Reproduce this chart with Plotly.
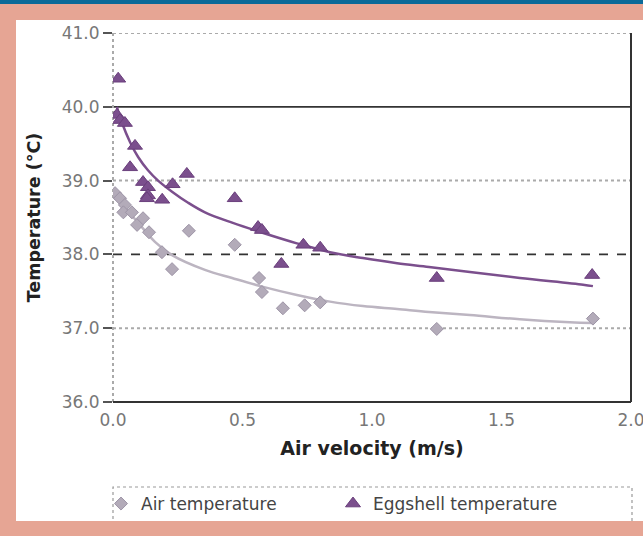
import plotly.graph_objects as go

# ---- data ----
egg_x = [0.02, 0.015, 0.027, 0.046, 0.085, 0.066, 0.116, 0.135, 0.135, 0.131, 0.19, 0.23, 0.285,
         0.47, 0.56, 0.575, 0.65, 0.735, 0.80, 1.25, 1.85]
egg_y = [40.38, 39.89, 39.82, 39.78, 39.47, 39.18, 38.98, 38.91, 38.80, 38.76, 38.74, 38.95, 39.09,
         38.76, 38.37, 38.33, 37.87, 38.13, 38.09, 37.68, 37.72]
air_x = [0.008, 0.027, 0.046, 0.04, 0.073, 0.093, 0.116, 0.139, 0.189, 0.228, 0.293,
         0.47, 0.564, 0.575, 0.656, 0.74, 0.80, 1.25, 1.853]
air_y = [38.83, 38.76, 38.67, 38.57, 38.57, 38.40, 38.49, 38.30, 38.03, 37.80, 38.32,
         38.13, 37.68, 37.49, 37.27, 37.31, 37.35, 36.99, 37.13]

# trend lines as drawn in the reference
egg_trend_x = [0.015, 0.035, 0.066, 0.097, 0.135, 0.174, 0.228, 0.29, 0.355, 0.46,
               0.58, 0.71, 0.838, 0.965, 1.097, 1.22, 1.378, 1.571, 1.815, 1.853]
egg_trend_y = [40.00, 39.78, 39.52, 39.32, 39.14, 39.00, 38.85, 38.70, 38.57, 38.43,
               38.29, 38.15, 38.03, 37.95, 37.88, 37.83, 37.76, 37.68, 37.59, 37.57]
air_trend_x = [0.015, 0.046, 0.097, 0.162, 0.228, 0.355, 0.46, 0.58, 0.71, 0.838,
               0.965, 1.097, 1.22, 1.378, 1.571, 1.764, 1.853]
air_trend_y = [38.87, 38.64, 38.43, 38.17, 37.99, 37.79, 37.68, 37.56, 37.45, 37.36,
               37.30, 37.26, 37.22, 37.18, 37.12, 37.08, 37.07]

y_ticks = [36, 37, 38, 39, 40, 41]
x_ticks = [0.0, 0.5, 1.0, 1.5, 2.0]

EGG_C = "#7b4f8d"
AIR_C = "#b3abb9"
SALMON = "#e6a594"
BLUE = "#0b6a99"

W, H = 643, 536
L, R, T, B = 113, 631, 33, 402


def px(x):
    return (x - L) / (R - L)


def py(y):
    return (B - y) / (B - T)


fig = go.Figure()

fig.add_trace(go.Scatter(x=air_trend_x, y=air_trend_y, mode="lines", line_shape="spline",
                         line=dict(color="#bcb5c1", width=2.5), showlegend=False, hoverinfo="skip"))
fig.add_trace(go.Scatter(x=egg_trend_x, y=egg_trend_y, mode="lines", line_shape="spline",
                         line=dict(color=EGG_C, width=2.5), showlegend=False, hoverinfo="skip"))
fig.add_trace(go.Scatter(x=air_x, y=air_y, mode="markers", name="Air temperature",
                         marker=dict(symbol="diamond", size=10, color=AIR_C,
                                     line=dict(color="#9d94a6", width=1))))
fig.add_trace(go.Scatter(x=egg_x, y=egg_y, mode="markers", name="Eggshell temperature",
                         marker=dict(symbol="triangle-up", size=13, color=EGG_C,
                                     line=dict(color="#6a3f7c", width=1))))

shapes = [
    dict(type="rect", xref="paper", yref="paper", x0=px(16), x1=px(W + 5), y0=py(521), y1=py(20),
         fillcolor="white", line=dict(width=0), layer="below"),
    dict(type="rect", xref="paper", yref="paper", x0=px(-5), x1=px(W + 5), y0=py(4), y1=py(-5),
         fillcolor=BLUE, line=dict(width=0), layer="below"),
    dict(type="rect", xref="paper", yref="paper", x0=px(113), x1=px(632), y0=py(530), y1=py(487),
         fillcolor="rgba(0,0,0,0)", line=dict(color="#999", width=1.2, dash="dot"), layer="below"),
    dict(type="rect", xref="paper", yref="paper", x0=px(-5), x1=px(W + 5), y0=py(H + 5), y1=py(521),
         fillcolor=SALMON, line=dict(width=0), layer="below"),
]
grid_styles = {41: ("#aaa", 2, "dot"), 40: ("#333", 1.8, "solid"), 39: ("#aaa", 2, "dot"),
               38: ("#333", 1.8, "dash"), 37: ("#aaa", 2, "dot")}
for yv, (c, w, d) in grid_styles.items():
    shapes.append(dict(type="line", xref="paper", yref="y", x0=0, x1=1, y0=yv, y1=yv,
                       line=dict(color=c, width=w, dash=d), layer="below"))
shapes.append(dict(type="line", xref="paper", yref="paper", x0=0, x1=0, y0=0, y1=1,
                   line=dict(color="#aaa", width=2, dash="dot"), layer="below"))
shapes.append(dict(type="line", xref="paper", yref="paper", x0=0, x1=1, y0=0, y1=0,
                   line=dict(color="#333", width=2), layer="above"))
shapes.append(dict(type="line", xref="paper", yref="paper", x0=1, x1=1, y0=0, y1=1,
                   line=dict(color="#333", width=2), layer="above"))

fig.update_layout(
    width=W, height=H,
    margin=dict(l=L, r=W - R, t=T, b=H - B, autoexpand=False),
    paper_bgcolor=SALMON, plot_bgcolor="rgba(0,0,0,0)",
    shapes=shapes,
    font=dict(family="DejaVu Sans", color="#555"),
    xaxis=dict(range=[0, 2], tickvals=x_ticks, ticktext=[f"{v:.1f}" for v in x_ticks],
               showgrid=False, zeroline=False, showline=False, automargin=False,
               ticks="", tickfont=dict(size=17, color="#777"),
               ticklabeloverflow="allow", ticklabelstandoff=6,
               title=dict(text="<b>Air velocity (m/s)</b>", font=dict(size=19, color="#222"),
                          standoff=12)),
    yaxis=dict(range=[36, 41], tickvals=y_ticks, ticktext=[f"{v:.1f}" for v in y_ticks],
               showgrid=False, zeroline=False, showline=False, automargin=False,
               ticks="outside", ticklen=9, tickcolor="#555", tickwidth=1.5,
               tickfont=dict(size=17, color="#777"),
               title=dict(text="<b>Temperature (°C)</b>", font=dict(size=17.5, color="#222"),
                          standoff=16)),
    legend=dict(orientation="h", x=px(101), xanchor="left", y=py(504), yanchor="middle",
                bgcolor="rgba(0,0,0,0)", borderwidth=0, font=dict(size=17, color="#444"),
                itemwidth=30, entrywidth=187, entrywidthmode="pixels"),
)

fig.write_html("out.html")
